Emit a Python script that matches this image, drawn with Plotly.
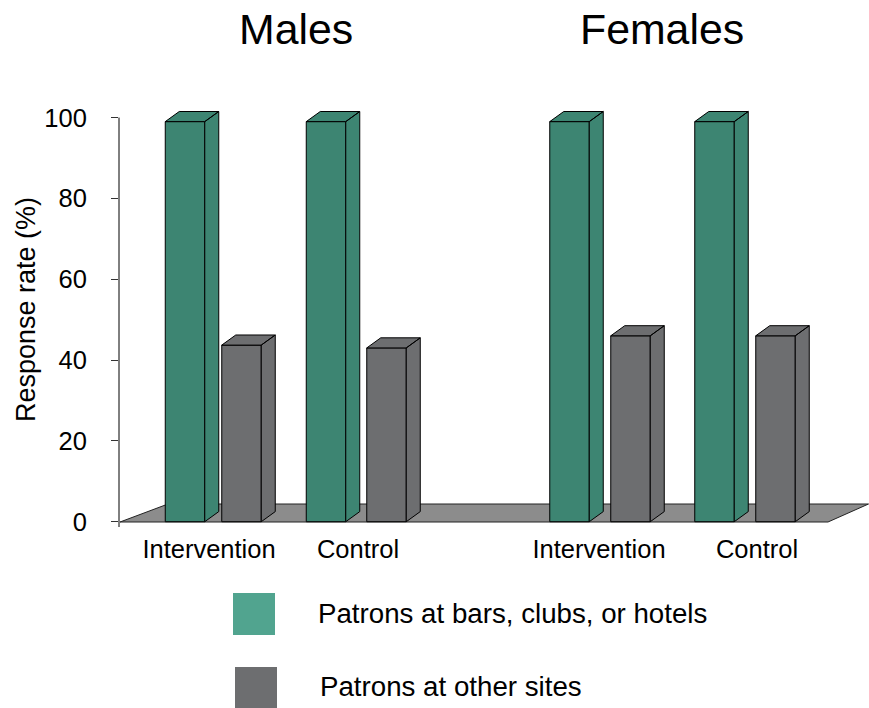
import plotly.graph_objects as go

group_labels = ["Intervention", "Control", "Intervention", "Control"]
group_label_pos = [209, 358, 599, 757]
green_pos = [185, 326, 569.5, 714.5]
grey_pos = [241.5, 386.5, 630.5, 775.5]
bars_clubs_hotels = [99, 99, 99, 99]
other_sites = [43.7, 43, 46, 46]
y_ticks = [0, 20, 40, 60, 80, 100]

GREEN = "#3d8572"
GREY = "#6d6e70"
LEG_GREEN = "#51a48f"
FLOOR = "#8c8c8c"
W, H = 869, 708
PLOT_L, PLOT_R, PLOT_T, PLOT_B = 119, 869, 101, 527
BAR_W = 39.5
DX, DY = 14, 2.5
FONT = "Liberation Sans"

def px(x): return (x - PLOT_L) / (PLOT_R - PLOT_L)
def py(y): return (PLOT_B - y) / (PLOT_B - PLOT_T)

def faces(xs, vals):
    px_, py_ = [], []
    for x, v in zip(xs, vals):
        l, r = x - BAR_W / 2, x + BAR_W / 2
        px_ += [r, r + DX, r + DX, r, r, None]
        py_ += [0, DY, v + DY, v, 0, None]
        px_ += [l, l + DX, r + DX, r, l, None]
        py_ += [v, v + DY, v + DY, v, v, None]
    return px_, py_

fig = go.Figure()
for name, xs, vals, col in [("Patrons at bars, clubs, or hotels", green_pos, bars_clubs_hotels, GREEN),
                            ("Patrons at other sites", grey_pos, other_sites, GREY)]:
    fig.add_bar(x=xs, y=vals, width=BAR_W, name=name, marker=dict(color=col, line=dict(color="black", width=1)),
                showlegend=False, cliponaxis=False, hoverinfo="y")
    fx, fy = faces(xs, vals)
    fig.add_scatter(x=fx, y=fy, mode="lines", fill="toself", fillcolor=col,
                    line=dict(color="black", width=1), showlegend=False, cliponaxis=False, hoverinfo="skip")

floor_path = "M {} {} L {} {} L {} {} L {} {} Z".format(
    px(120), py(522), px(168), py(504), px(868.5), py(504), px(828), py(522))

shapes = [dict(type="path", xref="paper", yref="paper", layer="below",
               path=floor_path,
               fillcolor=FLOOR, line=dict(color="#222222", width=1)),
          dict(type="line", xref="paper", yref="y", x0=0, x1=0, y0=-1.31, y1=100,
               line=dict(color="black", width=1)),
          dict(type="rect", xref="paper", yref="paper", x0=px(233), x1=px(275), y0=py(635), y1=py(593),
               fillcolor=LEG_GREEN, line=dict(width=0)),
          dict(type="rect", xref="paper", yref="paper", x0=px(235), x1=px(277), y0=py(708), y1=py(667),
               fillcolor=GREY, line=dict(width=0))]

def note(text, x, y, size, xanchor="center", **kw):
    return dict(text=text, xref="paper", yref="paper", x=px(x), y=py(y), showarrow=False,
                xanchor=xanchor, yanchor="middle",
                font=dict(family=FONT, size=size, color="black"), **kw)

annotations = [
    note("Males", 296, 28.5, 42.8),
    note("Females", 662, 28.5, 42.8),
    note("Response rate (%)", 26, 310, 27, textangle=-90),
    note("Patrons at bars, clubs, or hotels", 316, 613, 27.7, xanchor="left"),
    note("Patrons at other sites", 318, 686, 27.7, xanchor="left"),
]

fig.update_layout(
    width=W, height=H, autosize=False,
    margin=dict(l=PLOT_L, r=W - PLOT_R, t=PLOT_T, b=H - PLOT_B, pad=0),
    paper_bgcolor="white", plot_bgcolor="white",
    barmode="overlay", showlegend=False,
    shapes=shapes, annotations=annotations,
    font=dict(family=FONT, size=25.5, color="black"),
    xaxis=dict(range=[PLOT_L, PLOT_R], showgrid=False, zeroline=False, showline=False,
               tickmode="array", tickvals=group_label_pos, ticktext=group_labels,
               ticks="", ticklabelstandoff=4, tickfont=dict(family=FONT, size=25.5, color="black")),
    yaxis=dict(range=[-1.31, 104.1], showgrid=False, zeroline=False, showline=False,
               tickmode="array", tickvals=y_ticks,
               ticks="outside", ticklen=7, tickcolor="#333333", tickwidth=1, ticklabelstandoff=19,
               tickfont=dict(family=FONT, size=25.5, color="black")),
)
fig.write_html("out.html", config={"displayModeBar": False},
               post_script="document.body.style.margin='0';document.body.style.overflow='hidden';")
